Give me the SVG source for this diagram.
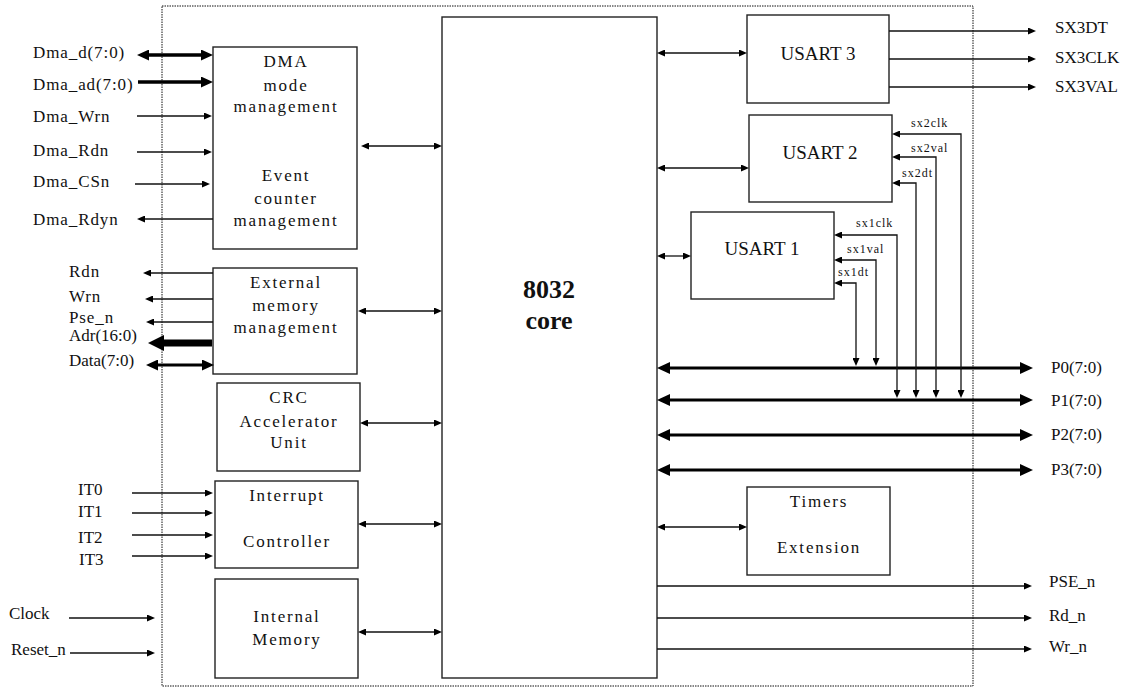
<svg xmlns="http://www.w3.org/2000/svg" width="1127" height="689" viewBox="0 0 1127 689" font-family="'Liberation Serif', 'Times New Roman', serif">
  <style>
    text { font-family: 'Liberation Serif', 'Times New Roman', serif; fill: #111; }
    .blk { font-size: 17px; letter-spacing: 1.8px; text-anchor: middle; }
    .usart { font-size: 19px; text-anchor: middle; }
    .lbl { font-size: 17px; }
    .dma { font-size: 17px; letter-spacing: 0.9px; }
    .sml { font-size: 12px; letter-spacing: 1px; }
    .core { font-size: 26px; font-weight: bold; text-anchor: middle; }
    .box { fill: #fff; stroke: #222; stroke-width: 1.4; }
    .thin { stroke: #111; stroke-width: 1.3; fill: none; }
    .thick { stroke: #000; stroke-width: 3.6; fill: none; }
    .bus { stroke: #000; stroke-width: 3.2; fill: none; }
    .wide { stroke: #000; stroke-width: 7; fill: none; }
    .frame { fill: none; stroke: #111; stroke-width: 1; stroke-dasharray: 1.5 1; }
  </style>
  <defs>
    <!-- heads are drawn from their base (x=0) to the tip, so lines stop at the base -->
    <marker id="ah" viewBox="0 0 8 7" refX="0" refY="3.5" markerWidth="8" markerHeight="7" markerUnits="userSpaceOnUse" orient="auto-start-reverse">
      <path d="M0,0 L8,3.5 L0,7 z" fill="#000"/>
    </marker>
    <marker id="ahT" viewBox="0 0 12 11" refX="0" refY="5.5" markerWidth="12" markerHeight="11" markerUnits="userSpaceOnUse" orient="auto-start-reverse">
      <path d="M0,0 L12,5.5 L0,11 z" fill="#000"/>
    </marker>
    <marker id="ahB" viewBox="0 0 13 12" refX="0" refY="6" markerWidth="13" markerHeight="12" markerUnits="userSpaceOnUse" orient="auto-start-reverse">
      <path d="M0,0 L13,6 L0,12 z" fill="#000"/>
    </marker>
    <marker id="ahW" viewBox="0 0 16 16" refX="0" refY="8" markerWidth="16" markerHeight="16" markerUnits="userSpaceOnUse" orient="auto-start-reverse">
      <path d="M0,0 L16,8 L0,16 z" fill="#000"/>
    </marker>
  </defs>

  <!-- chip boundary -->
  <rect class="frame" x="162" y="6" width="811" height="680"/>

  <g id="core">
    <rect class="box" x="442" y="17" width="215" height="661"/>
    <text class="core" x="549" y="298">8032</text>
    <text class="core" x="549" y="329">core</text>
  </g>

  <g id="dma">
    <rect class="box" x="213" y="47" width="144" height="202"/>
    <text class="blk" x="286" y="67">DMA</text>
    <text class="blk" x="286" y="91">mode</text>
    <text class="blk" x="286" y="112">management</text>
    <text class="blk" x="286" y="181">Event</text>
    <text class="blk" x="286" y="204">counter</text>
    <text class="blk" x="286" y="226">management</text>
  </g>

  <g id="ext-mem">
    <rect class="box" x="213" y="268" width="144" height="106"/>
    <text class="blk" x="286" y="288">External</text>
    <text class="blk" x="286" y="311">memory</text>
    <text class="blk" x="286" y="333">management</text>
  </g>

  <g id="crc">
    <rect class="box" x="217" y="383" width="143" height="88"/>
    <text class="blk" x="289" y="403">CRC</text>
    <text class="blk" x="289" y="427">Accelerator</text>
    <text class="blk" x="289" y="448">Unit</text>
  </g>

  <g id="interrupt">
    <rect class="box" x="215" y="481" width="143" height="87"/>
    <text class="blk" x="287" y="501">Interrupt</text>
    <text class="blk" x="287" y="547">Controller</text>
  </g>

  <g id="int-mem">
    <rect class="box" x="215" y="579" width="143" height="99"/>
    <text class="blk" x="287" y="622">Internal</text>
    <text class="blk" x="287" y="645">Memory</text>
  </g>

  <g id="usart3">
    <rect class="box" x="747" y="15" width="142" height="88"/>
    <text class="usart" x="818" y="60">USART 3</text>
  </g>

  <g id="usart2">
    <rect class="box" x="749" y="115" width="143" height="87"/>
    <text class="usart" x="820" y="159">USART 2</text>
  </g>

  <g id="usart1">
    <rect class="box" x="691" y="212" width="143" height="87"/>
    <text class="usart" x="762" y="255">USART 1</text>
  </g>

  <g id="timers">
    <rect class="box" x="747" y="487" width="143" height="88"/>
    <text class="blk" x="819" y="507">Timers</text>
    <text class="blk" x="819" y="553">Extension</text>
  </g>

  <g id="connectors">
    <!-- DMA port -->
    <line class="thick" x1="149" y1="55" x2="201" y2="55" marker-start="url(#ahT)" marker-end="url(#ahT)"/>
    <line class="thick" x1="138" y1="82" x2="201" y2="82" marker-end="url(#ahT)"/>
    <line class="thin" x1="137" y1="116" x2="204" y2="116" marker-end="url(#ah)"/>
    <line class="thin" x1="137" y1="152" x2="204" y2="152" marker-end="url(#ah)"/>
    <line class="thin" x1="135" y1="184" x2="202" y2="184" marker-end="url(#ah)"/>
    <line class="thin" x1="213" y1="219" x2="145" y2="219" marker-end="url(#ah)"/>

    <!-- external memory port -->
    <line class="thin" x1="213" y1="273" x2="151" y2="273" marker-end="url(#ah)"/>
    <line class="thin" x1="213" y1="299" x2="153" y2="299" marker-end="url(#ah)"/>
    <line class="thin" x1="213" y1="322" x2="154" y2="322" marker-end="url(#ah)"/>
    <line class="wide" x1="212" y1="343" x2="164" y2="343" marker-end="url(#ahW)"/>
    <line class="bus" x1="158" y1="365" x2="202" y2="365" marker-start="url(#ahT)" marker-end="url(#ahT)"/>

    <!-- interrupts, clock, reset -->
    <line class="thin" x1="132" y1="493" x2="205" y2="493" marker-end="url(#ah)"/>
    <line class="thin" x1="132" y1="513" x2="205" y2="513" marker-end="url(#ah)"/>
    <line class="thin" x1="132" y1="535" x2="205" y2="535" marker-end="url(#ah)"/>
    <line class="thin" x1="132" y1="556" x2="205" y2="556" marker-end="url(#ah)"/>
    <line class="thin" x1="69" y1="618" x2="147" y2="618" marker-end="url(#ah)"/>
    <line class="thin" x1="70" y1="653" x2="147" y2="653" marker-end="url(#ah)"/>

    <!-- left blocks to core -->
    <line class="thin" x1="369" y1="146" x2="434" y2="146" marker-start="url(#ah)" marker-end="url(#ah)"/>
    <line class="thin" x1="366" y1="311" x2="434" y2="311" marker-start="url(#ah)" marker-end="url(#ah)"/>
    <line class="thin" x1="368" y1="423" x2="434" y2="423" marker-start="url(#ah)" marker-end="url(#ah)"/>
    <line class="thin" x1="366" y1="524" x2="434" y2="524" marker-start="url(#ah)" marker-end="url(#ah)"/>
    <line class="thin" x1="366" y1="632" x2="434" y2="632" marker-start="url(#ah)" marker-end="url(#ah)"/>

    <!-- core to right blocks -->
    <line class="thin" x1="665" y1="53" x2="739" y2="53" marker-start="url(#ah)" marker-end="url(#ah)"/>
    <line class="thin" x1="665" y1="168" x2="741" y2="168" marker-start="url(#ah)" marker-end="url(#ah)"/>
    <line class="thin" x1="665" y1="256" x2="683" y2="256" marker-start="url(#ah)" marker-end="url(#ah)"/>
    <line class="thin" x1="665" y1="527" x2="739" y2="527" marker-start="url(#ah)" marker-end="url(#ah)"/>

    <!-- USART 3 serial outputs -->
    <line class="thin" x1="889" y1="31" x2="1028" y2="31" marker-end="url(#ah)"/>
    <line class="thin" x1="889" y1="59" x2="1028" y2="59" marker-end="url(#ah)"/>
    <line class="thin" x1="889" y1="87" x2="1028" y2="87" marker-end="url(#ah)"/>

    <!-- ports -->
    <line class="bus" x1="670" y1="368" x2="1020" y2="368" marker-start="url(#ahB)" marker-end="url(#ahB)"/>
    <line class="bus" x1="670" y1="400" x2="1020" y2="400" marker-start="url(#ahB)" marker-end="url(#ahB)"/>
    <line class="bus" x1="670" y1="435" x2="1020" y2="435" marker-start="url(#ahB)" marker-end="url(#ahB)"/>
    <line class="bus" x1="670" y1="470" x2="1020" y2="470" marker-start="url(#ahB)" marker-end="url(#ahB)"/>

    <!-- USART 2 / USART 1 pins shared with ports -->
    <path class="thin" d="M900,134 H961 V390" marker-start="url(#ah)" marker-end="url(#ah)"/>
    <path class="thin" d="M900,157 H936 V390" marker-start="url(#ah)" marker-end="url(#ah)"/>
    <path class="thin" d="M900,183 H916 V390" marker-start="url(#ah)" marker-end="url(#ah)"/>
    <path class="thin" d="M842,235 H897 V390" marker-start="url(#ah)" marker-end="url(#ah)"/>
    <path class="thin" d="M842,260 H876 V358" marker-start="url(#ah)" marker-end="url(#ah)"/>
    <path class="thin" d="M842,283 H856 V358" marker-start="url(#ah)" marker-end="url(#ah)"/>

    <!-- external bus strobes -->
    <line class="thin" x1="657" y1="586" x2="1024" y2="586" marker-end="url(#ah)"/>
    <line class="thin" x1="657" y1="618" x2="1024" y2="618" marker-end="url(#ah)"/>
    <line class="thin" x1="657" y1="649" x2="1024" y2="649" marker-end="url(#ah)"/>
  </g>

  <g id="labels">
    <text class="dma" x="33" y="58">Dma_d(7:0)</text>
    <text class="dma" x="33" y="90">Dma_ad(7:0)</text>
    <text class="dma" x="33" y="122">Dma_Wrn</text>
    <text class="dma" x="33" y="156">Dma_Rdn</text>
    <text class="dma" x="33" y="187">Dma_CSn</text>
    <text class="dma" x="33" y="225">Dma_Rdyn</text>

    <text class="dma" x="69" y="277">Rdn</text>
    <text class="dma" x="69" y="302">Wrn</text>
    <text class="dma" x="69" y="323">Pse_n</text>
    <text class="lbl" x="69" y="341">Adr(16:0)</text>
    <text class="lbl" x="69" y="366">Data(7:0)</text>

    <text class="lbl" x="78" y="495">IT0</text>
    <text class="lbl" x="78" y="517">IT1</text>
    <text class="lbl" x="78" y="543">IT2</text>
    <text class="lbl" x="79" y="565">IT3</text>
    <text class="lbl" x="9" y="619">Clock</text>
    <text class="lbl" x="11" y="655">Reset_n</text>

    <text class="lbl" x="1055" y="33">SX3DT</text>
    <text class="lbl" x="1055" y="63">SX3CLK</text>
    <text class="lbl" x="1055" y="92">SX3VAL</text>

    <text class="sml" x="911" y="127">sx2clk</text>
    <text class="sml" x="911" y="152">sx2val</text>
    <text class="sml" x="902" y="177">sx2dt</text>
    <text class="sml" x="856" y="227">sx1clk</text>
    <text class="sml" x="847" y="253">sx1val</text>
    <text class="sml" x="838" y="276">sx1dt</text>

    <text class="lbl" x="1051" y="373">P0(7:0)</text>
    <text class="lbl" x="1051" y="406">P1(7:0)</text>
    <text class="lbl" x="1051" y="440">P2(7:0)</text>
    <text class="lbl" x="1051" y="475">P3(7:0)</text>

    <text class="lbl" x="1049" y="587">PSE_n</text>
    <text class="lbl" x="1049" y="621">Rd_n</text>
    <text class="lbl" x="1049" y="652">Wr_n</text>
  </g>
</svg>
